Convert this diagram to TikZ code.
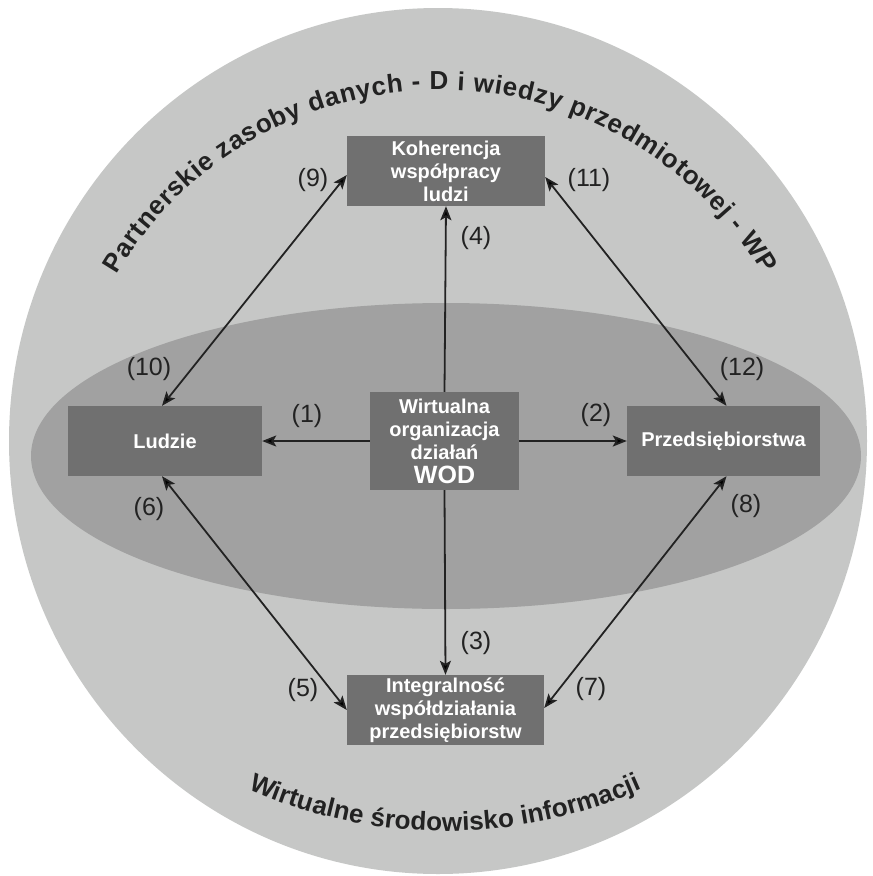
\documentclass[tikz,border=0pt]{standalone}
\usepackage{fontspec}
\setmainfont{Liberation Sans}
\usetikzlibrary{arrows.meta,decorations.text}
\definecolor{outerc}{HTML}{C6C7C6}
\definecolor{ellc}{HTML}{A1A1A1}
\definecolor{boxc}{HTML}{707070}
\definecolor{inkc}{HTML}{222222}
\tikzset{
  boxnode/.style={fill=boxc, text=white, align=center, inner sep=0pt,
    font=\bfseries\fontsize{20}{23}\selectfont},
  arr/.style={draw=inkc, line width=1.8pt, -{Stealth[length=14pt,width=11pt,inset=3pt]}},
  darr/.style={draw=inkc, line width=1.8pt, {Stealth[length=14pt,width=11pt,inset=3pt]}-{Stealth[length=14pt,width=11pt,inset=3pt]}},
  lbl/.style={text=inkc, inner sep=0pt, font=\fontsize{25}{28}\selectfont}
}
\begin{document}
\begin{tikzpicture}[x=1pt,y=1pt]
\useasboundingbox (0,0) rectangle (873,-876);
\fill[white] (0,0) rectangle (873,-876);
\fill[outerc] (438,-441) ellipse [x radius=429, y radius=433];
\fill[ellc] (446,-456) ellipse [x radius=415, y radius=153];

% curved texts
\path[decorate, decoration={text along path, text align=fit to path, text color=inkc,
  text={|\bfseries\fontsize{26}{30}\selectfont|Partnerskie zasoby danych - D i wiedzy przedmiotowej - WP}}]
  (440,-465) ++(149.5:375) arc[start angle=149.5, end angle=30.5, radius=375];
\path[decorate, decoration={text along path, text align=fit to path, text color=inkc,
  text={|\bfseries\fontsize{26}{30}\selectfont|Wirtualne środowisko informacji}}]
  (445,-347) ++(246:484) arc[start angle=246, end angle=294, radius=484];

% boxes
\node[boxnode, minimum width=198pt, minimum height=70pt] (K) at (446,-171) {Koherencja\\współpracy\\ludzi};
\node[boxnode, minimum width=149pt, minimum height=98pt] (W) at (444.5,-441)
  {Wirtualna\\organizacja\\działań\\[1pt]{\fontsize{25}{27}\selectfont WOD}};
\node[boxnode, minimum width=197pt, minimum height=70pt] (I) at (445.5,-710) {Integralność\\współdziałania\\przedsiębiorstw};
\node[boxnode, minimum width=194pt, minimum height=70pt] (L) at (165,-441) {Ludzie};
\node[boxnode, minimum width=193pt, minimum height=70pt] (P) at (723.5,-441) {Przedsiębiorstwa};

% connectors
\draw[arr] (W.west) -- (L.east);
\draw[arr] (W.east) -- (P.west);
\draw[arr] (W.north) -- (K.south);
\draw[arr] (W.south) -- (I.north);
\draw[darr] ([xshift=-3pt]L.north) -- ([yshift=-4pt]K.west);
\draw[darr] ([xshift=3pt]P.north) -- ([yshift=-6pt]K.east);
\draw[darr] ([xshift=-3pt]L.south) -- (I.west);
\draw[darr] ([xshift=3pt]P.south) -- ([yshift=2pt]I.east);

% labels
\node[lbl] (n1) at (307,-416) {(1)};
\node[lbl] (n2) at (596,-415) {(2)};
\node[lbl] (n3) at (476,-643) {(3)};
\node[lbl] (n4) at (476,-238) {(4)};
\node[lbl] (n5) at (303,-690) {(5)};
\node[lbl] (n6) at (149,-509) {(6)};
\node[lbl] (n7) at (591,-689) {(7)};
\node[lbl] (n8) at (746,-506) {(8)};
\node[lbl] (n9) at (313,-180) {(9)};
\node[lbl] (n10) at (149,-369) {(10)};
\node[lbl] (n11) at (589,-180) {(11)};
\node[lbl] (n12) at (742,-369) {(12)};
\end{tikzpicture}
\end{document}
